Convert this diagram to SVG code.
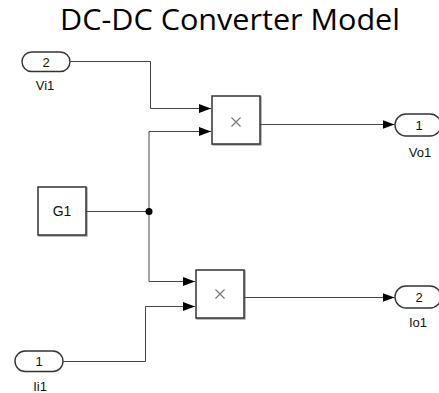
<svg xmlns="http://www.w3.org/2000/svg" width="439" height="393" viewBox="0 0 439 393">
<defs>
<marker id="arr" viewBox="0 0 12 9" refX="12" refY="4.5" markerWidth="12" markerHeight="9" markerUnits="userSpaceOnUse" orient="auto">
<path d="M0,0 L12,4.5 L0,9 Z" fill="#000"/>
</marker>
<filter id="sh" x="-10%" y="-10%" width="130%" height="130%">
<feDropShadow dx="1" dy="1" stdDeviation="0.6" flood-color="#000" flood-opacity="0.35"/>
</filter>
<style>
.title{font-family:"Open Sans","Noto Sans",sans-serif;font-size:29px;fill:#000}
.blk{fill:#fff;stroke:#333;stroke-width:1.5;filter:url(#sh)}
.port{fill:#fff;stroke:#333;stroke-width:1.4}
.lbl{font-family:"Liberation Sans",Arial,sans-serif;font-size:13px;fill:#111;text-anchor:middle}
.num{font-family:"Liberation Sans",Arial,sans-serif;font-size:13px;fill:#111;text-anchor:middle}
.mul{stroke:#777;stroke-width:1.2;fill:none}
.wire{fill:none;stroke:#444;stroke-width:1}
</style>
</defs>
<rect width="439" height="393" fill="#fff"/>
<text class="title" x="230" y="30" text-anchor="middle" textLength="340" lengthAdjust="spacingAndGlyphs">DC-DC Converter Model</text>

<g id="Vi1">
<rect class="port" x="22" y="52" width="48" height="19.5" rx="9.75"/>
<text class="num" x="46" y="66.5">2</text>
<text class="lbl" x="45" y="90">Vi1</text>
</g>
<g id="Ii1">
<rect class="port" x="15" y="351" width="48" height="20.5" rx="10.2"/>
<text class="num" x="39" y="366">1</text>
<text class="lbl" x="40" y="391">Ii1</text>
</g>
<g id="G1">
<rect class="blk" x="38" y="187" width="48" height="48"/>
<text class="lbl" x="62" y="216" style="font-size:14px">G1</text>
</g>
<g id="Product1">
<rect class="blk" x="212" y="96" width="48" height="48"/>
<path class="mul" d="M231.5,117.5 l9,9 M240.5,117.5 l-9,9"/>
</g>
<g id="Product2">
<rect class="blk" x="196" y="270" width="48" height="48"/>
<path class="mul" d="M215.5,289.5 l9,9 M224.5,289.5 l-9,9"/>
</g>
<g id="Vo1">
<rect class="port" x="395" y="114" width="46" height="22" rx="11"/>
<text class="num" x="419" y="129.5">1</text>
<text class="lbl" x="420" y="156.5">Vo1</text>
</g>
<g id="Io1">
<rect class="port" x="395" y="286" width="46" height="22" rx="11"/>
<text class="num" x="419" y="301.5">2</text>
<text class="lbl" x="418" y="326.5">Io1</text>
</g>

<g id="connectors">
<path class="wire" d="M70,61.5 H150.5 V108.5 H211" marker-end="url(#arr)"/>
<path class="wire" d="M86,211.5 H149"/>
<path class="wire" d="M149,131.5 H211" marker-end="url(#arr)"/>
<path class="wire" d="M149,131.5 V281.5 H195" marker-end="url(#arr)"/>
<path class="wire" d="M63,361.5 H145.5 V306.5 H195" marker-end="url(#arr)"/>
<path class="wire" d="M260,124.5 H394.5" marker-end="url(#arr)"/>
<path class="wire" d="M244,297.5 H394.5" marker-end="url(#arr)"/>
<circle cx="149" cy="211.5" r="3.5" fill="#000"/>
</g>
</svg>
